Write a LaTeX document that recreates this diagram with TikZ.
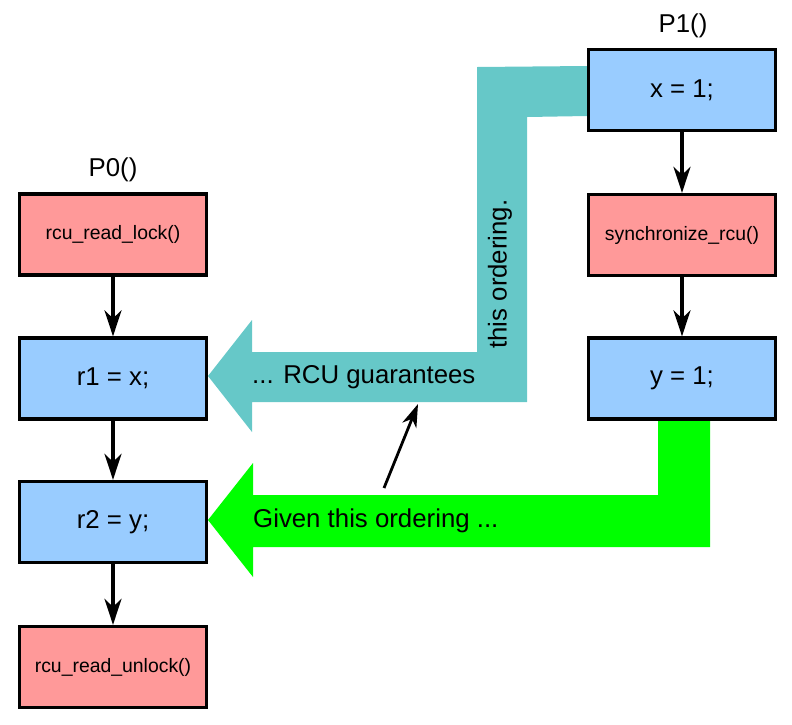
\documentclass[tikz,border=0pt]{standalone}
\usepackage{fontspec}
\setmainfont{Liberation Sans}
\usetikzlibrary{arrows.meta}
\definecolor{boxblue}{HTML}{99CCFF}
\definecolor{boxred}{HTML}{FF9999}
\definecolor{bandteal}{HTML}{66C8C8}
\definecolor{bandgreen}{HTML}{00FF00}
\begin{document}
\begin{tikzpicture}[x=1pt,y=-1pt,
  stepbox/.style={draw=black,line width=3.3pt,minimum width=187pt,minimum height=81pt,inner sep=0pt,font=\fontsize{25.8}{30}\selectfont},
  bluebox/.style={stepbox,fill=boxblue},
  redbox/.style={stepbox,fill=boxred,font=\fontsize{19.4}{23}\selectfont},
  flow/.style={line width=3.2pt,-{Stealth[length=26pt,width=17pt,inset=8pt]}},
  pointer/.style={line width=2.8pt,-{Stealth[length=23pt,width=15pt,inset=7pt]}},
  lbl/.style={font=\fontsize{25.8}{30}\selectfont,inner sep=0pt}]
\useasboundingbox (0,0) rectangle (792,724);
% bands
\fill[bandteal] (587,66) -- (477,67) -- (477,352) -- (252,352) -- (252,320) -- (208,376) -- (252,432) -- (252,402) -- (527,402) -- (527,117) -- (587,116) -- cycle;
\fill[bandgreen] (658,415) -- (658,495) -- (253,495) -- (253,463) -- (208,520) -- (253,577) -- (253,547) -- (710,547) -- (710,415) -- cycle;
% P0 boxes
\node[redbox]  (lock)   at (113,234.5) {rcu\_read\_lock()};
\node[bluebox] (r1)     at (113,378.5) {r1 = x;};
\node[bluebox] (r2)     at (113,522)   {r2 = y;};
\node[redbox]  (unlock) at (113,667)   {rcu\_read\_unlock()};
% P1 boxes
\node[bluebox] (x1)   at (682,90)    {x = 1;};
\node[redbox]  (sync) at (682,235)   {synchronize\_rcu()};
\node[bluebox] (y1)   at (682,378.5) {y = 1;};
% titles
\node[lbl] (p0) at (113,170) {P0()};
\node[lbl] (p1) at (683,26) {P1()};
% flow arrows
\draw[flow] (lock) -- (r1);
\draw[flow] (r1) -- (r2);
\draw[flow] (r2) -- (unlock);
\draw[flow] (x1) -- (sync);
\draw[flow] (sync) -- (y1);
% band labels
\node[lbl,anchor=west] (rcu) at (252,377) {... RCU guarantees};
\node[lbl,anchor=west] (given) at (253,521) {Given this ordering ...};
\node[lbl,rotate=90] (this) at (500,274) {this ordering.};
% pointer
\coordinate (ps) at (384,488);
\coordinate (pe) at (418,404);
\draw[pointer] (ps) -- (pe);
\end{tikzpicture}
\end{document}
